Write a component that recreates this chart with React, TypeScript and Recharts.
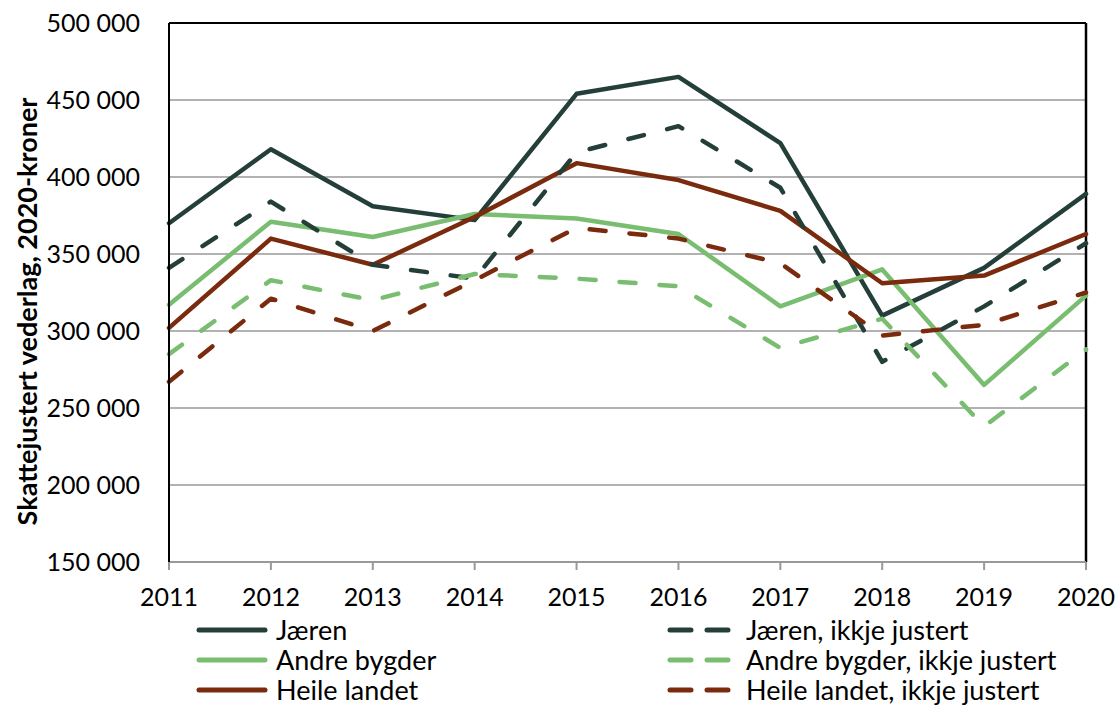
import { CartesianGrid, Legend, Line, LineChart, ReferenceLine, XAxis, YAxis } from "recharts";

const years = ["2011", "2012", "2013", "2014", "2015", "2016", "2017", "2018", "2019", "2020"];
const jaeren = [370000, 418000, 381000, 372000, 454000, 465000, 422000, 310000, 341000, 389000];
const jaerenRaw = [341000, 384000, 343000, 334000, 416000, 433000, 393000, 280000, 316000, 357000];
const andre = [317000, 371000, 361000, 376000, 373000, 363000, 316000, 340000, 265000, 323000];
const andreRaw = [285000, 333000, 320000, 337000, 334000, 329000, 289000, 308000, 238000, 288000];
const heile = [302000, 360000, 343000, 374000, 409000, 398000, 378000, 331000, 336000, 363000];
const heileRaw = [267000, 321000, 300000, 333000, 367000, 360000, 344000, 297000, 304000, 325000];
const yTicks = [150000, 200000, 250000, 300000, 350000, 400000, 450000, 500000];

const DARK = "#243f39";
const GREEN = "#79bd70";
const BROWN = "#7a2a0d";
const FONT = "Lato, 'Open Sans', sans-serif";

const series = [
  { key: "jaeren", name: "Jæren", color: DARK, dashed: false },
  { key: "andre", name: "Andre bygder", color: GREEN, dashed: false },
  { key: "heile", name: "Heile landet", color: BROWN, dashed: false },
  { key: "jaerenRaw", name: "Jæren, ikkje justert", color: DARK, dashed: true },
  { key: "andreRaw", name: "Andre bygder, ikkje justert", color: GREEN, dashed: true },
  { key: "heileRaw", name: "Heile landet, ikkje justert", color: BROWN, dashed: true },
];

const data = years.map((year, i) => ({
  year,
  jaeren: jaeren[i],
  jaerenRaw: jaerenRaw[i],
  andre: andre[i],
  andreRaw: andreRaw[i],
  heile: heile[i],
  heileRaw: heileRaw[i],
}));

const fmt = (v: number) => String(v).replace(/\B(?=(\d{3})+(?!\d))/g, " ");

function YLabel(props: any) {
  const { viewBox } = props;
  const cx = viewBox.x + 18;
  const cy = viewBox.y + viewBox.height / 2 + 19;
  return (
    <text
      x={cx}
      y={cy}
      transform={`rotate(-90 ${cx} ${cy})`}
      textAnchor="middle"
      dominantBaseline="central"
      fontWeight="bold"
      fontSize={27}
      fontFamily={FONT}
      fill="#000"
    >
      Skattejustert vederlag, 2020-kroner
    </text>
  );
}

function LegendRow({ s, top, left, textLeft }: any) {
  return (
    <div style={{ position: "absolute", top, left: 0, height: 30, width: "100%" }}>
      <svg style={{ position: "absolute", left, top: 0 }} width={76} height={30}>
        {s.dashed ? (
          <line x1={4} x2={70} y1={15} y2={15} stroke={s.color} strokeWidth={5} strokeLinecap="round" strokeDasharray="21 16" />
        ) : (
          <line x1={3} x2={69} y1={15} y2={15} stroke={s.color} strokeWidth={5} strokeLinecap="round" />
        )}
      </svg>
      <span style={{ position: "absolute", left: textLeft, top: 0, lineHeight: "30px", whiteSpace: "nowrap" }}>{s.name}</span>
    </div>
  );
}

function LegendBox() {
  const solid = series.filter((s) => !s.dashed);
  const dashed = series.filter((s) => s.dashed);
  return (
    <div style={{ position: "relative", width: 1110, height: 84, fontFamily: FONT, fontSize: 27, color: "#000" }}>
      {solid.map((s, i) => (
        <LegendRow key={s.key} s={s} top={i * 30} left={188} textLeft={268} />
      ))}
      {dashed.map((s, i) => (
        <LegendRow key={s.key} s={s} top={i * 30} left={658} textLeft={738} />
      ))}
    </div>
  );
}

export default function App() {
  return (
    <div style={{ width: 1110, height: 698, padding: "8px 0 0 8px", overflow: "hidden", position: "relative" }}>
      <style>{"body{margin:0}"}</style>
      <LineChart width={1110} height={698} data={data} margin={{ top: 15, right: 32, left: 0, bottom: 15 }}>
        <CartesianGrid vertical={false} stroke="#999" strokeWidth={1.5} />
        <XAxis
          dataKey="year"
          height={45}
          stroke="#999"
          strokeWidth={2}
          tickSize={8}
          tickMargin={18}
          tick={{ fill: "#000", fontSize: 25, fontFamily: FONT }}
          interval={0}
        />
        <YAxis
          width={161}
          domain={[150000, 500000]}
          ticks={yTicks}
          tickFormatter={fmt}
          axisLine={{ stroke: "#000", strokeWidth: 2 }}
          tickLine={false}
          tickSize={8}
          tickMargin={21}
          tick={{ fill: "#000", fontSize: 25, fontFamily: FONT }}
          label={<YLabel />}
        />
        <ReferenceLine y={500000} stroke="#000" strokeWidth={2} />
        <ReferenceLine x="2020" stroke="#000" strokeWidth={2.5} />
        {series.map((s) => (
          <Line
            key={s.key}
            dataKey={s.key}
            name={s.name}
            stroke={s.color}
            strokeWidth={4.5}
            strokeDasharray={s.dashed ? "16 24" : undefined}
            strokeLinecap="round"
            strokeLinejoin="round"
            dot={false}
            activeDot={false}
            type="linear"
            isAnimationActive={false}
          />
        ))}
        <Legend content={<LegendBox />} wrapperStyle={{ left: 0, top: 607, bottom: "auto", width: 1110 }} />
      </LineChart>
    </div>
  );
}
